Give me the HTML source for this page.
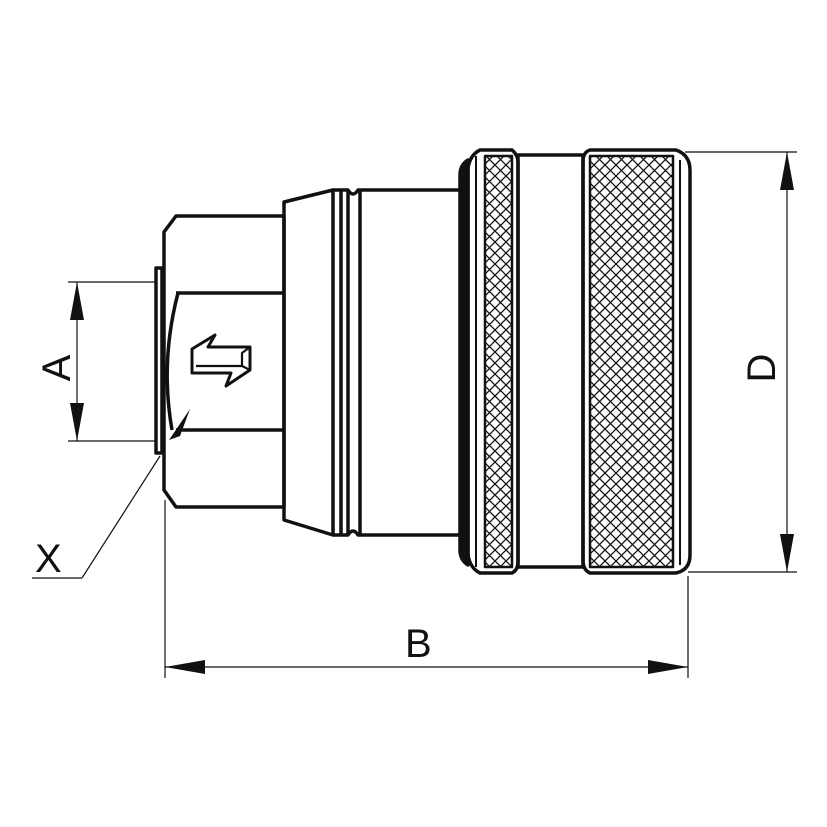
<!DOCTYPE html>
<html><head><meta charset="utf-8"><style>html,body{margin:0;padding:0;background:#fff}svg{display:block}</style></head><body>
<svg width="827" height="827" viewBox="0 0 827 827" xmlns="http://www.w3.org/2000/svg">
<defs>
<pattern id="kn" width="11" height="11" patternUnits="userSpaceOnUse">
<path d="M0,0 L11,11 M11,0 L0,11" stroke="#111" stroke-width="1.3"/>
</pattern>
</defs>
<g fill="none" stroke="#111" stroke-linejoin="round">
<g stroke-width="1.2">
<line x1="68" y1="282" x2="155" y2="282"/>
<line x1="68" y1="441" x2="155" y2="441"/>
<line x1="77" y1="282" x2="77" y2="441"/>
<line x1="32" y1="578" x2="82" y2="578"/>
<line x1="82" y1="578" x2="160" y2="456"/>
<line x1="165" y1="500" x2="165" y2="678"/>
<line x1="688" y1="576" x2="688" y2="678"/>
<line x1="165" y1="667" x2="688" y2="667"/>
<line x1="685" y1="152" x2="797" y2="152"/>
<line x1="688" y1="572" x2="797" y2="572"/>
<line x1="787" y1="152" x2="787" y2="572"/>
</g>
<g fill="#111" stroke="none">
<polygon points="77,282 70,320 84,320"/>
<polygon points="77,441 70,403 84,403"/>
<polygon points="165,667 205,660 205,674"/>
<polygon points="688,667 648,660 648,674"/>
<polygon points="787,152 780,190 794,190"/>
<polygon points="787,572 780,534 794,534"/>
<polygon points="169,440 190,409 180,436"/>
</g>
<g stroke-width="3.5">
<rect x="156" y="268" width="6" height="185"/>
<path d="M176,216 L284,216 L284,507 L176,507 L164,490 L164,232 Z"/>
<line x1="176" y1="293" x2="284" y2="293"/>
<line x1="176" y1="430" x2="284" y2="430"/>
<path d="M178,293 Q160,362 172,430"/>
<path d="M284,202 L333,190 L333,535 L284,520 Z"/>
<line x1="341" y1="190" x2="341" y2="535"/>
<path d="M333,190 L348,190 Q353,198 358,190 L460,190"/>
<path d="M333,535 L348,535 Q353,527 358,535 L460,535"/>
<line x1="360" y1="190" x2="360" y2="535"/>
<line x1="348" y1="190" x2="348" y2="535"/>
<path d="M192,349 L215,335 L208,347 L250,347 L250,370 L226,386 L231,373 L192,373 Z" stroke-width="3"/>
<path d="M196,366 L242,366 L242,353 L250,347 M242,366 L250,370" stroke-width="2.2"/>
<path d="M468,160 Q460,165 460,175 L460,550 Q460,560 468,565 Z" fill="#111"/>
<path d="M480,150 L512,150 Q518,155 518,162 L518,562 Q518,570 512,573 L480,573 Q470,568 468,555 L468,168 Q470,155 480,150 Z"/>
<rect x="485" y="156" width="27" height="411" fill="url(#kn)" stroke-width="2.5"/>
<line x1="476" y1="156" x2="476" y2="567" stroke-width="2"/>
<rect x="518" y="155" width="65" height="412"/>
<path d="M590,150 L676,150 Q690,155 690,170 L690,555 Q690,570 676,573 L590,573 Q583,570 583,560 L583,162 Q583,152 590,150 Z"/>
<rect x="590" y="156" width="83" height="411" fill="url(#kn)" stroke-width="2.5"/>
<line x1="680" y1="160" x2="680" y2="565" stroke-width="2"/>
</g>
</g>
<g font-family="Liberation Sans, sans-serif" font-size="40" fill="#111">
<text x="405" y="657">B</text>
<text x="35" y="572">X</text>
<text transform="translate(70,368) rotate(-90)" text-anchor="middle">A</text>
<text transform="translate(775,368) rotate(-90)" text-anchor="middle">D</text>
</g>
</svg>
</body></html>
